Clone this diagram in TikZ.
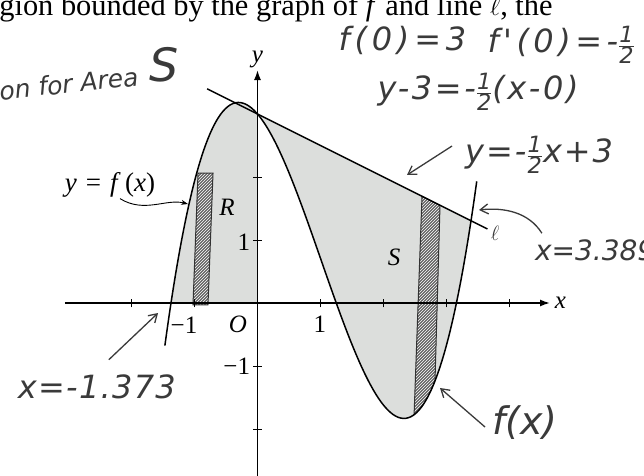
\documentclass[tikz,border=0pt]{standalone}
\usepackage{amsmath}
\usepackage{fontspec}
\setmainfont{Liberation Serif}
\newfontfamily\handfont{DejaVu Sans}
\usetikzlibrary{positioning,arrows.meta,calc,patterns}
\definecolor{hwGray}{RGB}{58,58,58}
\definecolor{areaGray}{RGB}{220,222,220}
\definecolor{stripGray}{RGB}{100,100,100}
\tikzset{
    axis/.style={line width=1.5pt, -{Latex[length=10pt,width=7pt]}},
    graphline/.style={line width=1.5pt},
    tickmark/.style={line width=0.9pt},
    printed/.style={font=\fontsize{25}{27}\selectfont, inner sep=1pt},
    hand/.style={text=hwGray, font=\handfont\itshape\fontsize{30}{32}\selectfont, inner sep=1pt},
    handls/.style={text=hwGray, inner sep=1pt,
                   font=\handfont\itshape\fontsize{32}{34}\selectfont\addfontfeature{LetterSpace=#1}},
    handarrow/.style={draw=hwGray, line width=1.3pt, -{Straight Barb[length=8pt,width=10pt]}},
    stripfill/.style={fill=stripGray},
    striphatch/.style={pattern=north east lines, pattern color=white},
    stripedge/.style={draw=black!80, line width=1pt}
}
\newcommand{\hwfrac}[2]{\genfrac{}{}{0.8pt}{}{\text{#1}}{\text{#2}}}

\begin{document}
\begin{tikzpicture}[x=63pt, y=63pt,
    declare function={fc(\t)=0.5536*(\t+1.373)*(\t-1.25)*(\t-3.1575);}]
  \useasboundingbox (-4.0873,-2.7302) rectangle (6.1349,4.8095);

  % Shaded regions R and S
  \fill[areaGray] plot[domain=-1.373:0, samples=40] (\x,{fc(\x)}) -- (0,0) -- cycle;
  \fill[areaGray] plot[domain=0:3.3895, samples=80] (\x,{fc(\x)}) -- (0,3) -- cycle;

  % Strips
  \fill[stripfill] (-1.024,-0.03) -- (-0.786,-0.03) -- (-0.706,2.063) -- (-0.944,2.063) -- cycle;
  \fill[striphatch] (-1.024,-0.03) -- (-0.786,-0.03) -- (-0.706,2.063) -- (-0.944,2.063) -- cycle;
  \draw[stripedge] (-1.024,-0.03) -- (-0.786,-0.03) -- (-0.706,2.063) -- (-0.944,2.063) -- cycle;
  \begin{scope}
    \clip plot[domain=2.3:3.0, samples=30] (\x,{fc(\x)}) -- (3.0,2.2) -- (2.3,2.2) -- cycle;
    \fill[stripfill] (2.611,1.694) -- (2.897,1.55) -- (2.79,-2.2) -- (2.47,-2.2) -- cycle;
    \fill[striphatch] (2.611,1.694) -- (2.897,1.55) -- (2.79,-2.2) -- (2.47,-2.2) -- cycle;
    \draw[stripedge] (2.611,1.694) -- (2.897,1.55) -- (2.79,-2.2) -- (2.47,-2.2) -- cycle;
  \end{scope}

  % Axes
  \draw[axis] (-3.056,0) -- (4.643,0) node[right=3pt, printed] (xlbl) {\textit{x}};
  \draw[axis] (0,-2.75) -- (0,3.698) node[above=0pt, printed] (ylbl) {\textit{y}};
  \foreach \t in {-2,-1,1,2,3,4}
    \draw[tickmark] (\t,-0.07) -- (\t,0.07);
  \foreach \t in {-2,-1,1,2}
    \draw[tickmark] (-0.07,\t) -- (0.07,\t);

  % Line l and graph of f
  \draw[graphline] (-0.8,3.4) -- (3.65,1.175);
  \draw[graphline] plot[domain=-1.47:3.48, samples=120, smooth] (\x,{fc(\x)});

  % Printed labels
  \node[printed] (orig) at (-0.31,-0.34) {\textit{O}};
  \node[printed] (xm1) at (-1.167,-0.35) {−1};
  \node[printed] (xp1) at (0.99,-0.34) {1};
  \node[printed, anchor=east] (yp1) at (-0.1,0.97) {1};
  \node[printed, anchor=east] (ym1) at (-0.1,-1.0) {−1};
  \node[printed] (rlbl) at (-0.484,1.524) {\textit{R}};
  \node[printed] (slbl) at (2.167,0.73) {\textit{S}};
  \node[printed, font=\fontsize{27}{29}\selectfont] (yfx) at (-2.341,1.873)
    {\textit{y}\,\,=\,\,\textit{f}\,(\textit{x})};
  \coordinate (fleft) at (-1.103,1.571);
  \draw[line width=0.9pt, -{Stealth[length=7pt,width=5pt]}]
    ([xshift=10pt]yfx.south) .. controls (-1.8,1.42) and (-1.45,1.66) .. (fleft);
  \node[anchor=base west, font=\fontsize{30.4}{32}\selectfont, inner sep=0pt] (topline)
    at (-4.10,4.57) {gion bounded by the graph of \textit{f} and line $\ell$, the};

  % Handwritten notes
  \node[hand, font=\handfont\itshape\fontsize{25}{27}\selectfont, anchor=base west, rotate=6]
    (areatxt) at (-4.10,3.22) {on for Area};
  \node[hand, font=\handfont\itshape\fontsize{46}{48}\selectfont] (areaS) at (-1.484,3.778) {S};
  \node[handls=15] (f0) at (2.30,4.175) {f(0)=3};
  \node[handls=14] (fp0) at (4.82,4.095) {f'(0)=-$\hwfrac{1}{2}$};
  \node[handls=8] (tangeq) at (3.50,3.349) {y-3=-$\hwfrac{1}{2}$(x-0)};
  \node[handls=6] (lineq) at (4.47,2.349) {y=-$\hwfrac{1}{2}$x+3};
  \node[hand, font=\fontsize{22}{24}\selectfont] (ell) at (3.77,1.111) {$\ell$};
  \node[hand, font=\handfont\itshape\fontsize{28}{30}\selectfont] (xright) at (5.36,0.841) {x=3.389};
  \node[handls=4] (xleft) at (-2.55,-1.333) {x=-1.373};
  \node[hand, font=\handfont\itshape\fontsize{38}{40}\selectfont] (fxlbl) at (4.246,-1.905) {f(x)};

  \coordinate (lnpt) at (2.373,2.032);
  \coordinate (isect) at (3.516,1.476);
  \coordinate (rootpt) at (-1.579,-0.159);
  \coordinate (minpt) at (2.897,-1.349);
  \draw[handarrow] ([shift={(-12pt,9pt)}]lineq.west) -- (lnpt);
  \draw[handarrow] ([shift={(8pt,5pt)}]xright.north west) .. controls (4.3,1.45) and (3.9,1.52) .. (isect);
  \draw[handarrow] ([shift={(12pt,14pt)}]xleft.north) -- (rootpt);
  \draw[handarrow] ([shift={(-6pt,-4pt)}]fxlbl.west) -- (minpt);
\end{tikzpicture}
\end{document}
